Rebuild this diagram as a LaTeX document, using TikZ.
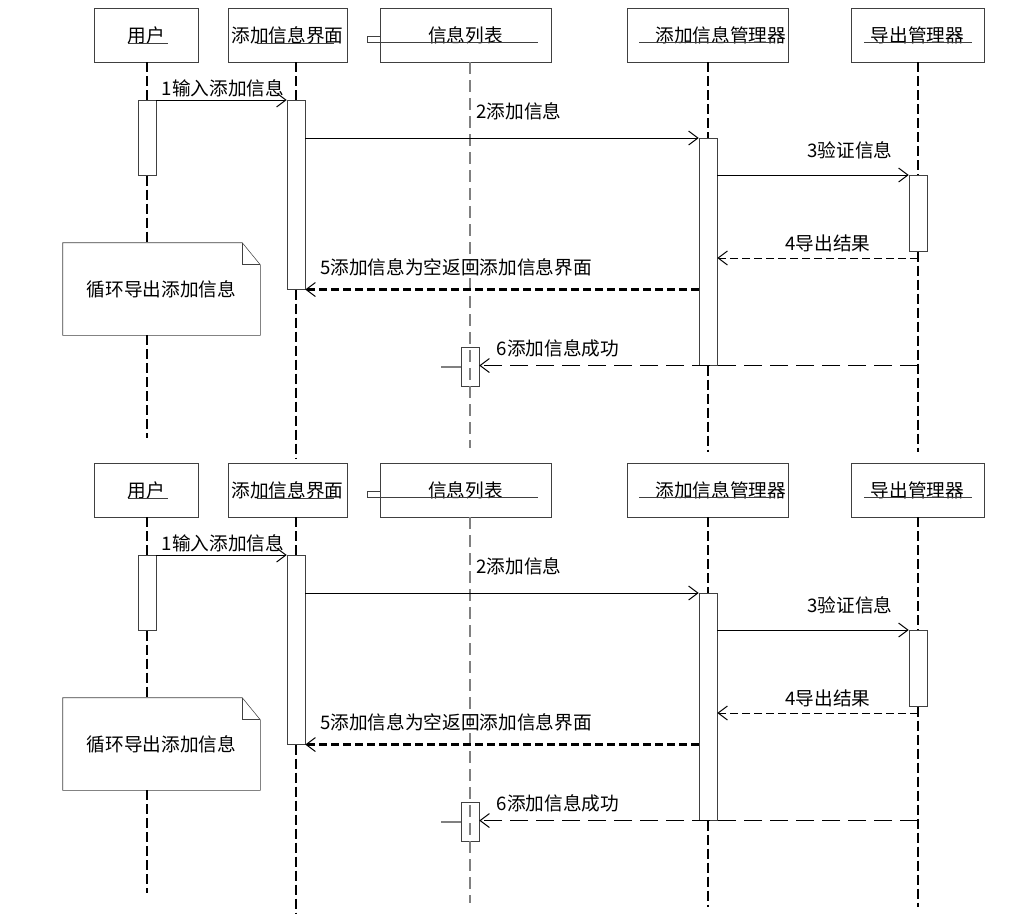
\documentclass[tikz,border=0pt]{standalone}
\usepackage{fontspec}
\setmainfont{Noto Sans CJK SC}
\usetikzlibrary{arrows.meta}
\definecolor{BoxGray}{HTML}{404040}
\definecolor{LifeGray}{HTML}{808080}

\tikzset{
  head/.style={draw=BoxGray, minimum height=40.5pt, inner sep=0pt},
  act/.style={draw=BoxGray, minimum width=13.5pt, inner sep=0pt, anchor=north},
  life/.style={line width=2pt, dash pattern=on 7.5pt off 3pt},
  lifethin/.style={draw=LifeGray, line width=1.1pt, dash pattern=on 9pt off 4.5pt},
  msg/.style={-{Straight Barb[length=7pt,width=10.5pt,line width=0.75pt]}, line width=0.75pt},
  retthick/.style={line width=1.9pt, dash pattern=on 6pt off 3pt},
  retthin/.style={dash pattern=on 6pt off 3pt},
  retlong/.style={dash pattern=on 13.5pt off 6pt}
}

\begin{document}
\begin{tikzpicture}[x=0.75pt, y=-0.75pt, font=\fontsize{14pt}{16pt}\selectfont]
  \useasboundingbox (0,0) rectangle (1034,922);
  \foreach \dy/\s in {0/a,455/b}{
  \begin{scope}[shift={(0,\dy)}]
    % Header level
    \node[head, minimum width=78pt] (user\s) at (146,35) {用户};
    \node[head, minimum width=89.25pt] (gui\s) at (287.5,35) {添加信息界面};
    \node[head, minimum width=128.25pt] (list\s) at (465.5,35) {信息列表};
    \node[head, minimum width=120.75pt] (mgr\s) at (707.5,35) {\hspace*{20pt}添加信息管理器};
    \node[head, minimum width=99.75pt] (exp\s) at (917.5,35) {导出管理器};
    \draw[BoxGray] (128,43) -- (168,43);
    \draw[BoxGray] (257,43) -- (334,43);
    \draw[BoxGray] (367,42) -- (538,42);
    \draw[BoxGray] (367,36) rectangle (380,42);
    \draw[BoxGray] (639,42) -- (775,42);
    \draw[BoxGray] (864,42) -- (972,42);

    % Activation bars
    \node[act, minimum height=56.25pt] (actU\s) at (147,100) {};
    \node[act, minimum height=141.75pt] (actG\s) at (296,100) {};
    \node[act, minimum height=29.25pt] (actL\s) at (470,347) {};
    \node[act, minimum height=170.25pt] (actM\s) at (708,138) {};
    \node[act, minimum height=57pt] (actE\s) at (918,175) {};

    % Note
    \node[minimum width=147.75pt, minimum height=69pt] (note\s) at (161.5,289) {循环导出添加信息};
    \draw[BoxGray] (note\s.south west) -- (note\s.north west) -- ([xshift=-13.5pt]note\s.north east)
      -- ([yshift=-16.5pt]note\s.north east) -- (note\s.south east) -- cycle;
    \draw[BoxGray] ([xshift=-13.5pt]note\s.north east) |- ([yshift=-16.5pt]note\s.north east);

    % Lifelines
    \draw[life] (user\s.south -| actU\s.north) -- (actU\s.north);
    \draw[life] (actU\s.south) -- (actU\s.south |- note\s.north);
    \draw[life] (actU\s.south |- note\s.south) -- (147,438);
    \draw[life] (gui\s.south -| actG\s.north) -- (actG\s.north);
    \draw[life] (actG\s.south) -- (296,459);
    \draw[lifethin] (list\s.south -| actL\s.north) -- (470,448);
    \draw[life] (mgr\s.south -| actM\s.north) -- (actM\s.north);
    \draw[life] (actM\s.south) -- (708,452);
    \draw[life] (exp\s.south -| actE\s.north) -- (actE\s.north);
    \draw[life] (actE\s.south) -- (918,452);

    % Messages
    \draw[msg] (actU\s.north east) -- (actG\s.north west);
    \node (m1\s) at (223,88) {1输入添加信息};
    \draw[msg] (actG\s.east |- actM\s.north) -- (actM\s.north west);
    \node (m2\s) at (519,111) {2添加信息};
    \draw[msg] (actM\s.east |- actE\s.north) -- (actE\s.north west);
    \node (m3\s) at (850,150) {3验证信息};
    \draw[msg, retthin] (actE\s.center |- 0,258) -- (actM\s.east |- 0,258);
    \node (m4\s) at (828,243) {4导出结果};
    \draw[msg, retthick] (actM\s.west |- actG\s.south) -- (actG\s.south east);
    \node (m5\s) at (456,267) {5添加信息为空返回添加信息界面};
    \draw[msg, retlong] (actE\s.center |- actM\s.south) -- (actL\s.east |- actM\s.south);
    \node (m6\s) at (558,348) {6添加信息成功};
    \draw[LifeGray, line width=1.1pt] (441,367) -- (actL\s.west |- 0,367);
  \end{scope}
  }
\end{tikzpicture}
\end{document}
